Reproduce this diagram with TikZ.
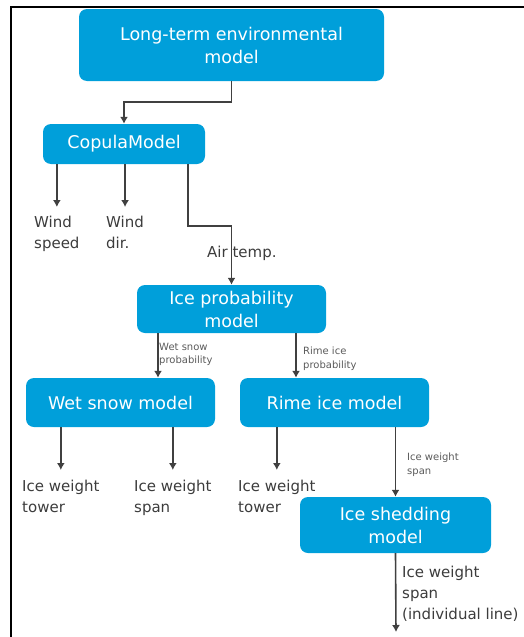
\documentclass[tikz,border=0pt]{standalone}
\usepackage{fontspec}
\setmainfont{DejaVu Sans}
\usetikzlibrary{positioning,arrows.meta}
\definecolor{boxblue}{HTML}{009FDA}
\definecolor{linegray}{HTML}{404040}
\definecolor{labelgray}{HTML}{3C3C3C}
\definecolor{notegray}{HTML}{5A5A5A}

\begin{document}
\begin{tikzpicture}[x=1pt,y=-1pt]
    \tikzset{model/.style={
        fill=boxblue, text=white, rounded corners=8pt, align=center,
        inner sep=0pt, font=\fontsize{17.5}{23}\selectfont
      },
      output/.style={anchor=north west, align=left, text=labelgray,
        inner sep=2pt, font=\fontsize{15}{21}\selectfont},
      note/.style={anchor=north west, align=left, text=notegray,
        inner sep=1pt, font=\fontsize{10}{13.5}\selectfont},
      flow/.style={draw=linegray, line width=1.6pt, -{Latex[length=7pt,width=8pt]}}
    }

    \useasboundingbox (0,0) rectangle (524,637);
    \draw[line width=2pt] (11,637) -- (11,7) -- (524,7);

    % models
    \node[model, minimum width=305pt, minimum height=72pt] (env) at (231.5,45) {Long-term environmental\\model};
    \node[model, minimum width=162pt, minimum height=40pt] (cop) at (124,144) {CopulaModel};
    \node[model, minimum width=189pt, minimum height=48pt] (ice) at (231.5,309) {Ice probability\\model};
    \node[model, minimum width=189pt, minimum height=49pt] (wet) at (120.5,402.5) {Wet snow model};
    \node[model, minimum width=189pt, minimum height=49pt] (rime) at (334.5,402.5) {Rime ice model};
    \node[model, minimum width=191pt, minimum height=56pt] (shed) at (395.5,525) {Ice shedding\\model};

    % outputs
    \node[output] (ws) at (32,214) {Wind\\speed};
    \node[output] (wd) at (104,214) {Wind\\dir.};
    \node[output] (air) at (205,244) {Air temp.};
    \node[output] (wet-tower) at (20,478) {Ice weight\\tower};
    \node[output] (wet-span) at (132,478) {Ice weight\\span};
    \node[output] (rime-tower) at (236,478) {Ice weight\\tower};
    \node[output] (shed-span) at (400,564) {Ice weight\\span\\(individual line)};

    \node[note] (wet-prob) at (158,342) {Wet snow\\probability};
    \node[note] (rime-prob) at (302,346) {Rime ice\\probability};
    \node[note] (rime-span) at (406,452) {Ice weight\\span};

    \coordinate (wet-in) at ([xshift=37.5pt]wet.north);
    \coordinate (rime-in) at ([xshift=-38.5pt]rime.north);
    \coordinate (shed-out) at (396,632);

    % connectors
    \draw[flow] (env.south) -- ++(0,21) -| (cop.north);
    \draw[flow, shorten >=7pt] (cop.south -| ws.north) -- (ws.north);
    \draw[flow, shorten >=7pt] (cop.south -| wd.north) -- (wd.north);
    \draw[flow] ([xshift=-17pt]cop.south east) -- ++(0,62) -| (ice.north);

    \draw[flow] (ice.south -| wet-in) -- (wet-in);
    \draw[flow] (ice.south -| rime-in) -- (rime-in);

    \draw[flow, shorten >=8pt] (wet.south -| wet-tower.north) -- (wet-tower.north);
    \draw[flow, shorten >=8pt] (wet.south -| wet-span.north) -- (wet-span.north);
    \draw[flow, shorten >=8pt] (rime.south -| rime-tower.north) -- (rime-tower.north);
    \draw[flow] (shed.north |- rime.south) -- (shed.north);
    \draw[flow] (shed.south) -- (shed-out);
  \end{tikzpicture}
\end{document}
